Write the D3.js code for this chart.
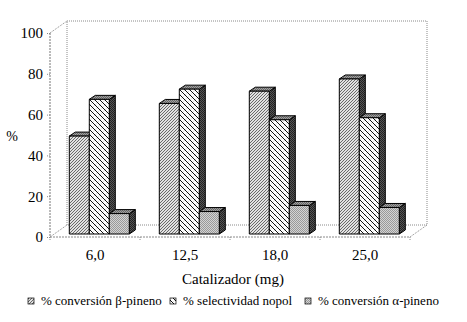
<!DOCTYPE html>
<html>
<head>
<meta charset="utf-8">
<script src="https://cdn.jsdelivr.net/npm/d3@7"></script>
<style>
  body { margin: 0; background: #fff; }
  svg text { font-family: "Liberation Serif", Tinos, "Times New Roman", "DejaVu Serif", serif !important; fill: #000; }
</style>
</head>
<body>
<div id="chart"></div>
<script>
// data
let categories = ["6,0", "12,5", "18,0", "25,0"];
let seriesNames = ["% conversión β-pineno", "% selectividad nopol", "% conversión α-pineno"];
let betaConv = [48, 64, 70, 76];
let nopolSel = [66, 71, 56, 57];
let alphaConv = [10, 11, 14, 13];
let yTicks = [0, 20, 40, 60, 80, 100];

let values = [betaConv, nopolSel, alphaConv];

let W = 467, H = 322;
let svg = d3.select("#chart").append("svg")
    .attr("width", W)
    .attr("height", H);

// 3d offsets
let depthX = 17, depthY = -12;     // full floor depth
let barShiftX = 4.3, barShiftY = -3; // where bars front faces sit
let barDX = 6, barDY = -4;         // bar thickness

let x = d3.scaleBand()
    .domain(categories)
    .range([50, 410])
    .paddingInner(1/3)
    .paddingOuter(1/6);

let xs = d3.scaleBand()
    .domain(d3.range(seriesNames.length))
    .range([0, x.bandwidth()]);

let y = d3.scaleLinear()
    .domain([0, 100])
    .range([237, 33]);

// patterns
let defs = svg.append("defs");

let p1 = defs.append("pattern").attr("id", "p1")
    .attr("patternUnits", "userSpaceOnUse").attr("width", 3).attr("height", 3);
p1.append("rect").attr("width", 3).attr("height", 3).attr("fill", "#e2e2e2");
p1.append("path").attr("d", "M0,3 L3,0 M-1,1 L1,-1 M2,4 L4,2")
    .attr("stroke", "#6a6a6a").attr("stroke-width", 1);

let p2 = defs.append("pattern").attr("id", "p2")
    .attr("patternUnits", "userSpaceOnUse").attr("width", 5).attr("height", 5);
p2.append("rect").attr("width", 5).attr("height", 5).attr("fill", "#fff");
p2.append("path").attr("d", "M0,5 L5,0 M-1,1 L1,-1 M4,6 L6,4")
    .attr("stroke", "#ccc").attr("stroke-width", 0.6);
p2.append("path").attr("d", "M0,0 L5,5 M-1,4 L1,6 M4,-1 L6,1")
    .attr("stroke", "#111").attr("stroke-width", 1);

function checker(id, a, b) {
  let p = defs.append("pattern").attr("id", id)
      .attr("patternUnits", "userSpaceOnUse").attr("width", 2).attr("height", 2);
  p.append("rect").attr("width", 2).attr("height", 2).attr("fill", a);
  p.append("rect").attr("width", 1).attr("height", 1).attr("fill", b);
  p.append("rect").attr("x", 1).attr("y", 1).attr("width", 1).attr("height", 1).attr("fill", b);
}
checker("p3", "#d4d4d4", "#999");
checker("ptop", "#a0a0a0", "#666");
checker("pside", "#555", "#222");

let fills = ["url(#p1)", "url(#p2)", "url(#p3)"];

// walls and floor
let grid = svg.append("g")
    .attr("fill", "none")
    .attr("stroke", "#8a8a8a")
    .attr("stroke-width", 1);

let x0 = 50, x1 = 410, yb = y(0), yt = y(100);
let dotted = "1,1";
grid.append("path")
    .attr("d", `M${x0 + depthX},${yt + depthY} L${x1 + depthX},${yt + depthY} L${x1 + depthX},${yb + depthY} L${x0 + depthX},${yb + depthY} Z`)
    .attr("stroke-dasharray", dotted);
grid.append("path")
    .attr("d", `M${x0},${yt} L${x0 + depthX},${yt + depthY} M${x0},${yb} L${x0 + depthX},${yb + depthY} M${x1},${yb} L${x1 + depthX},${yb + depthY}`)
    .attr("stroke-dasharray", dotted);
grid.append("path")
    .attr("d", `M${x0},${yb} L${x1},${yb}`)
    .attr("stroke-dasharray", "2,1");
grid.append("path")
    .attr("d", `M${x0},${yt} L${x0},${yb}`)
    .attr("stroke", "#777")
    .attr("stroke-dasharray", "2,1");

// category boundary ticks
grid.selectAll(".xt")
    .data(d3.range(categories.length + 1))
    .join("line")
    .attr("x1", d => x0 + d * x.step())
    .attr("x2", d => x0 + d * x.step())
    .attr("y1", yb)
    .attr("y2", yb + 4)
    .attr("stroke-dasharray", "1,1");

// y axis
let yAxis = d3.axisLeft(y)
    .tickValues(yTicks)
    .tickSize(4)
    .tickPadding(3);
let ya = svg.append("g")
    .attr("transform", `translate(${x0},0)`)
    .call(yAxis)
    .attr("font-family", null);
ya.select(".domain").remove();
ya.selectAll("line").attr("stroke", "#8a8a8a").attr("stroke-dasharray", "1,1");
ya.selectAll("text")
    .style("font-size", "15px");

// x axis labels
let xa = d3.axisBottom(x).tickSize(0).tickPadding(12);
let xg = svg.append("g")
    .attr("transform", `translate(0,${yb})`)
    .call(xa)
    .attr("font-family", null);
xg.select(".domain").remove();
xg.selectAll("text")
    .style("font-size", "15px");

// bars
let bars = [];
categories.forEach((c, ci) => {
  values.forEach((vals, si) => {
    bars.push({ cat: c, s: si, v: vals[ci] });
  });
});

let bg = svg.append("g")
    .attr("stroke", "#000")
    .attr("stroke-width", 1)
    .attr("stroke-linejoin", "round");

bars.forEach(d => {
  let left = x(d.cat) + xs(d.s) + barShiftX;
  let right = left + xs.bandwidth();
  let top = y(d.v) + barShiftY;
  let bottom = y(0) + barShiftY;
  // side face
  bg.append("path")
      .attr("d", `M${right},${bottom} L${right + barDX},${bottom + barDY} L${right + barDX},${top + barDY} L${right},${top} Z`)
      .attr("fill", "url(#pside)");
  // top face
  bg.append("path")
      .attr("d", `M${left},${top} L${left + barDX},${top + barDY} L${right + barDX},${top + barDY} L${right},${top} Z`)
      .attr("fill", "url(#ptop)");
  // front face
  bg.append("rect")
      .attr("x", left)
      .attr("y", top)
      .attr("width", xs.bandwidth())
      .attr("height", bottom - top)
      .attr("fill", fills[d.s]);
});

// axis titles
svg.append("text")
    .attr("x", 233)
    .attr("y", 284)
    .attr("text-anchor", "middle")
    .style("font-size", "15px")
    .text("Catalizador (mg)");

svg.append("text")
    .attr("x", 12)
    .attr("y", 141)
    .attr("text-anchor", "middle")
    .style("font-size", "14px")
    .text("%");

// legend
let legX = [28, 170, 305];
let leg = svg.append("g");
seriesNames.forEach((n, i) => {
  leg.append("rect")
      .attr("x", legX[i])
      .attr("y", 298)
      .attr("width", 6)
      .attr("height", 6)
      .attr("fill", fills[i])
      .attr("stroke", "#000")
      .attr("stroke-width", 0.7);
  leg.append("text")
      .attr("x", legX[i] + 13)
      .attr("y", 305)
      .style("font-size", "13px")
      .text(n);
});
</script>
</body>
</html>
